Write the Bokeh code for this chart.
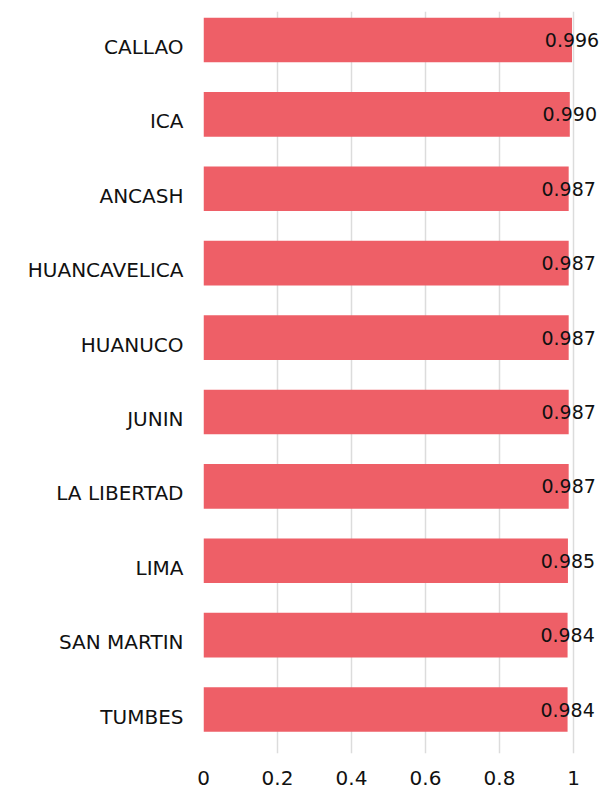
from bokeh.plotting import figure
from bokeh.models import Range1d, FixedTicker, ColumnDataSource
from bokeh.embed import file_html
from bokeh.resources import INLINE

regions = ["CALLAO", "ICA", "ANCASH", "HUANCAVELICA", "HUANUCO", "JUNIN",
           "LA LIBERTAD", "LIMA", "SAN MARTIN", "TUMBES"]
values = [0.996, 0.990, 0.987, 0.987, 0.987, 0.987, 0.987, 0.985, 0.984, 0.984]
x_ticks = [0, 0.2, 0.4, 0.6, 0.8, 1.0]
x_tick_labels = ["0", "0.2", "0.4", "0.6", "0.8", "1"]

FONT = "DejaVu Sans"
BAR = "#EE5F67"
LABEL_SHIFT = 0.09375  # category labels sit slightly below bar centres

idx = list(range(len(regions)))
src = ColumnDataSource(dict(y=idx, v=values, lbl=["%.3f" % v for v in values]))

p = figure(width=604, height=788, output_backend="svg", toolbar_location=None,
           x_range=Range1d(0, 1.0838), y_range=Range1d(9.591, -0.383),
           min_border_left=203, min_border_right=0, min_border_top=11,
           min_border_bottom=35)
p.outline_line_color = None
p.background_fill_color = "white"
p.border_fill_color = "white"

p.hbar(y="y", right="v", left=0, height=0.6, source=src, color=BAR, line_color=None)
p.text(x="v", y="y", text="lbl", source=src, text_align="center",
       text_baseline="middle", text_font_size="19px", text_color="#111111",
       text_font={"value": FONT})

p.xaxis.ticker = FixedTicker(ticks=x_ticks)
p.xaxis.major_label_overrides = {t: l for t, l in zip(x_ticks, x_tick_labels)}
y_ticks = [i + LABEL_SHIFT for i in idx]
p.yaxis.ticker = FixedTicker(ticks=y_ticks)
p.yaxis.major_label_overrides = {t: r for t, r in zip(y_ticks, regions)}

for ax in (p.xaxis, p.yaxis):
    ax.axis_line_color = None
    ax.major_tick_line_color = None
    ax.minor_tick_line_color = None
    ax.major_tick_out = 0
    ax.major_tick_in = 0
    ax.major_label_text_font = FONT
    ax.major_label_text_font_size = "20px"
    ax.major_label_text_color = "#111111"
p.xaxis.major_label_standoff = 17
p.yaxis.major_label_standoff = 20

p.xgrid.grid_line_color = "#dcdcdc"
p.xgrid.grid_line_width = 1.5
p.ygrid.grid_line_color = None

open("out.html", "w").write(file_html(p, INLINE))
